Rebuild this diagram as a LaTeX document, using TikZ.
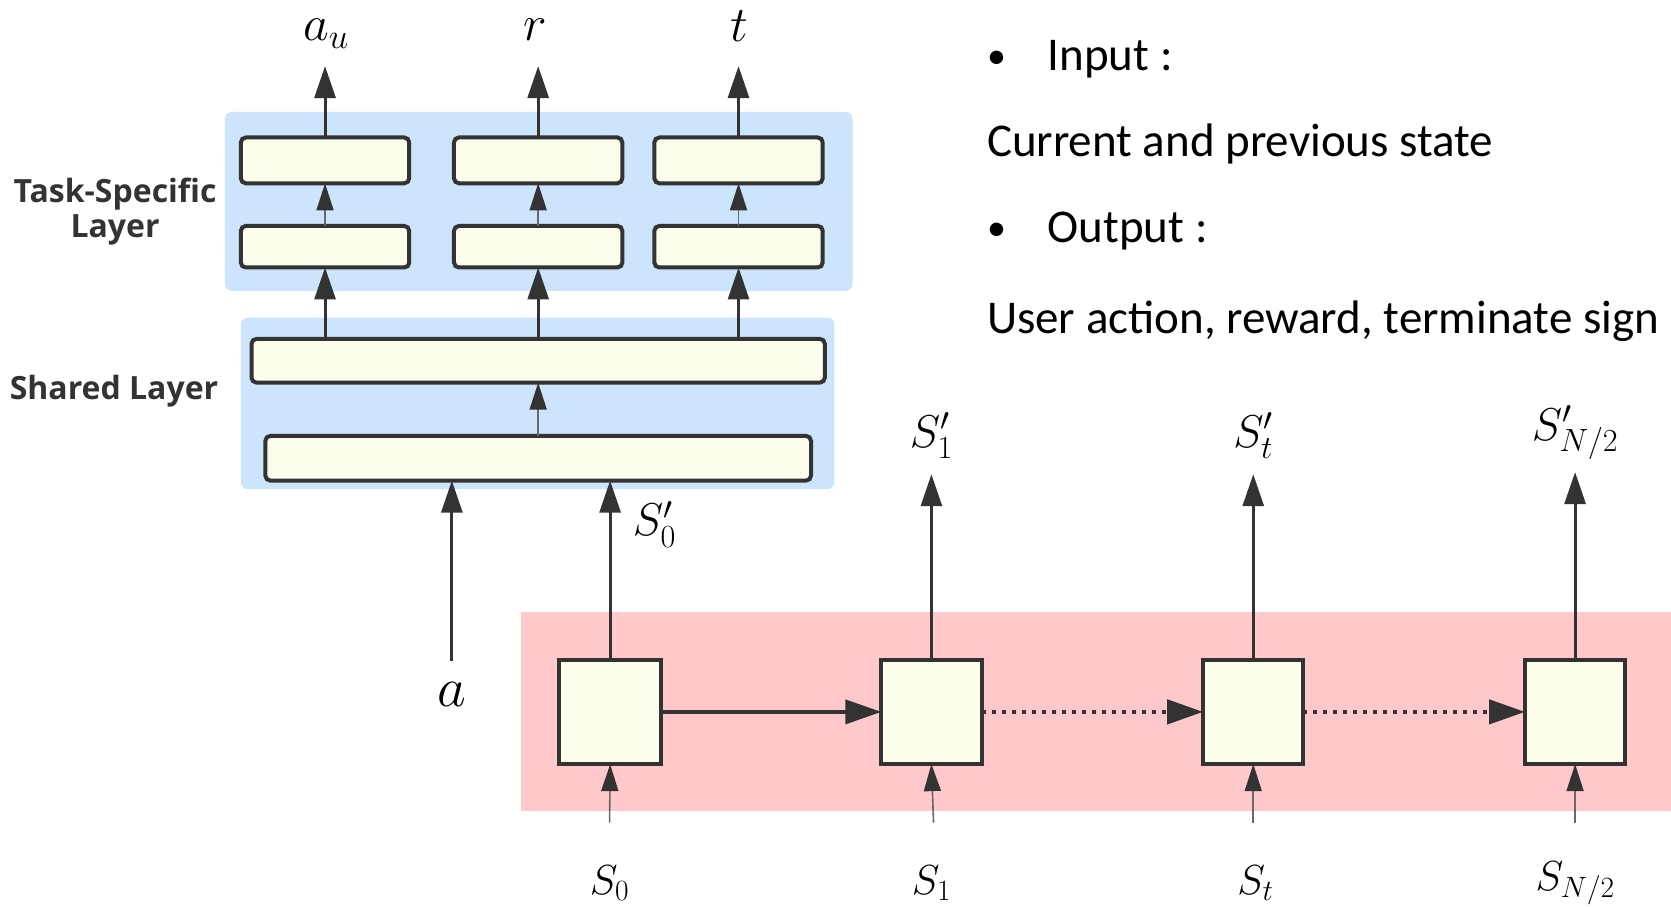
\RequirePackage{fix-cm}
\documentclass[tikz,border=0pt]{standalone}
\usepackage{fontspec}
\newfontfamily\calib{Carlito}
\newfontfamily\opsans{Open Sans}
\usetikzlibrary{arrows.meta,fit}
\definecolor{bluebg}{RGB}{204,228,252}
\definecolor{pinkbg}{RGB}{255,200,202}
\definecolor{ivory}{RGB}{253,253,236}
\definecolor{edgec}{RGB}{51,51,51}
\definecolor{thinc}{RGB}{105,105,105}
\newcommand\fsz[1]{\fontsize{#1}{#1}\selectfont}
\begin{document}
\begin{tikzpicture}[x=1.0657pt,y=-1.0657pt,
  layerbox/.style={draw=edgec, line width=4pt, fill=ivory, rounded corners=5pt, inner sep=0pt, outer sep=0pt},
  cellbox/.style={draw=edgec, line width=4pt, fill=ivory, inner sep=0pt, outer sep=0pt},
  bgblue/.style={fill=bluebg, rounded corners=7pt, inner sep=0pt, outer sep=0pt},
  bgpink/.style={fill=pinkbg, inner sep=0pt, outer sep=0pt},
  thickarrow/.style={draw=edgec, line width=3pt, -{Triangle[length=32pt,width=21pt]}},
  thinarrow/.style={draw=thinc, line width=1.6pt, -{Triangle[length=27pt,width=17pt,color=edgec]}},
  harrow/.style={draw=edgec, line width=4pt, -{Triangle[length=36pt,width=24pt]}},
  hdots/.style={draw=edgec, line width=4.5pt, dash pattern=on 4pt off 6pt, -{Triangle[length=36pt,width=24pt]}},
  mbig/.style={inner sep=0pt, font=\fsz{56}},
  mtop/.style={inner sep=0pt, anchor=base, font=\fsz{50}},
  mmid/.style={inner sep=0pt, font=\fsz{46}},
  msmall/.style={inner sep=0pt, font=\fsz{42}},
  sidelab/.style={text=edgec, align=center, inner sep=0pt, font={\opsans\bfseries\fontsize{32}{35}\selectfont}},
  bodytext/.style={anchor=base west, inner sep=0pt, font={\calib\fsz{47}}},
  bullettext/.style={anchor=base west, inner sep=0pt, font={\calib\fsz{38}}}
]
\useasboundingbox (0,0) rectangle (1568,851);
\clip (0,0) rectangle (1568,851);
\fill[white] (0,0) rectangle (1568,851);

% backgrounds
\node[bgblue, fit={(211,105)(800,273)}] (taskbg) {};
\node[bgblue, fit={(226,298)(783,459)}] (sharedbg) {};
\node[bgpink, fit={(489,574)(1570,761)}] (rnnbg) {};

% side labels
\node[sidelab] (ltask) at (108,199) {Task-Specific\\Layer};
\node[sidelab] (lshared) at (107,367) {Shared Layer};

% task-specific boxes
\node[layerbox, fit={(226,129)(384,172)}] (ta1) {};
\node[layerbox, fit={(426,129)(584,172)}] (ta2) {};
\node[layerbox, fit={(614,129)(772,172)}] (ta3) {};
\node[layerbox, fit={(226,212)(384,251)}] (tb1) {};
\node[layerbox, fit={(426,212)(584,251)}] (tb2) {};
\node[layerbox, fit={(614,212)(772,251)}] (tb3) {};
% shared boxes
\node[layerbox, fit={(236,318)(774,359)}] (su) {};
\node[layerbox, fit={(249,409)(761,451)}] (sl) {};

% output labels
\node[mtop] (lau) at (306,38) {$a_u$};
\node[mtop] (lr) at (502,38) {$r$};
\node[mtop] (lt) at (694,39) {$t$};
\coordinate (pau) at (305,62);
\coordinate (pr) at (505,62);
\coordinate (pt) at (693,62);

\draw[thickarrow] (ta1.north) -- (pau);
\draw[thickarrow] (ta2.north) -- (pr);
\draw[thickarrow] (ta3.north) -- (pt);
\draw[thinarrow] (tb1.north) -- (ta1.south);
\draw[thinarrow] (tb2.north) -- (ta2.south);
\draw[thinarrow] (tb3.north) -- (ta3.south);
\draw[thickarrow] (su.north -| tb1) -- (tb1.south);
\draw[thickarrow] (su.north -| tb2) -- (tb2.south);
\draw[thickarrow] (su.north -| tb3) -- (tb3.south);
\draw[thinarrow] (sl.north) -- (su.south);

% recurrent cells
\node[cellbox, fit={(525,619)(620,717)}] (c0) {};
\node[cellbox, fit={(827,619)(921,717)}] (c1) {};
\node[cellbox, fit={(1129,619)(1223,717)}] (c2) {};
\node[cellbox, fit={(1431,619)(1525,717)}] (c3) {};

% a input
\node[mbig] (la) at (424,652) {$a$};
\coordinate (astart) at (424,620);
\draw[thickarrow] (astart) -- (astart |- sl.south);

% S'0
\draw[thickarrow] (c0.north) -- (c0.north |- sl.south);
\node[mmid] (ls0p) at (614,492) {$S'_0$};

% outputs of cells
\coordinate (p1) at (874,445);
\coordinate (p2) at (1176,445);
\coordinate (p3) at (1478,443);
\draw[thickarrow] (c1.north) -- (p1);
\draw[thickarrow] (c2.north) -- (p2);
\draw[thickarrow] (c3.north) -- (p3);
\node[mmid] (ls1p) at (874,409) {$S'_1$};
\node[mmid] (lstp) at (1176,409) {$S'_t$};
\node[mmid] (lsnp) at (1478,406) {$S'_{N/2}$};

% horizontal connections
\draw[harrow] (c0.east) -- (c1.west);
\draw[hdots] (c1.east) -- (c2.west);
\draw[hdots] (c2.east) -- (c3.west);

% inputs
\coordinate (b0) at (572,772);
\coordinate (b1) at (876,772);
\coordinate (b2) at (1176,772);
\coordinate (b3) at (1478,772);
\draw[thinarrow] (b0) -- (c0.south);
\draw[thinarrow] (b1) -- (c1.south);
\draw[thinarrow] (b2) -- (c2.south);
\draw[thinarrow] (b3) -- (c3.south);
\node[msmall] (ls0) at (572,829) {$S_0$};
\node[msmall] (ls1) at (874,829) {$S_1$};
\node[msmall] (lst) at (1178,829) {$S_t$};
\node[msmall] (lsn) at (1478,829) {$S_{N/2}$};

% text on the right
\node[bullettext] (bul1) at (926,64) {•};
\node[bodytext] (tin) at (983,66) {Input :};
\node[bodytext] (tcur) at (926,147) {Current and previous state};
\node[bullettext] (bul2) at (926,226) {•};
\node[bodytext] (tout) at (983,228) {Output :};
\node[bodytext] (tuser) at (926,313) {User action, reward, terminate sign};
\end{tikzpicture}
\end{document}
